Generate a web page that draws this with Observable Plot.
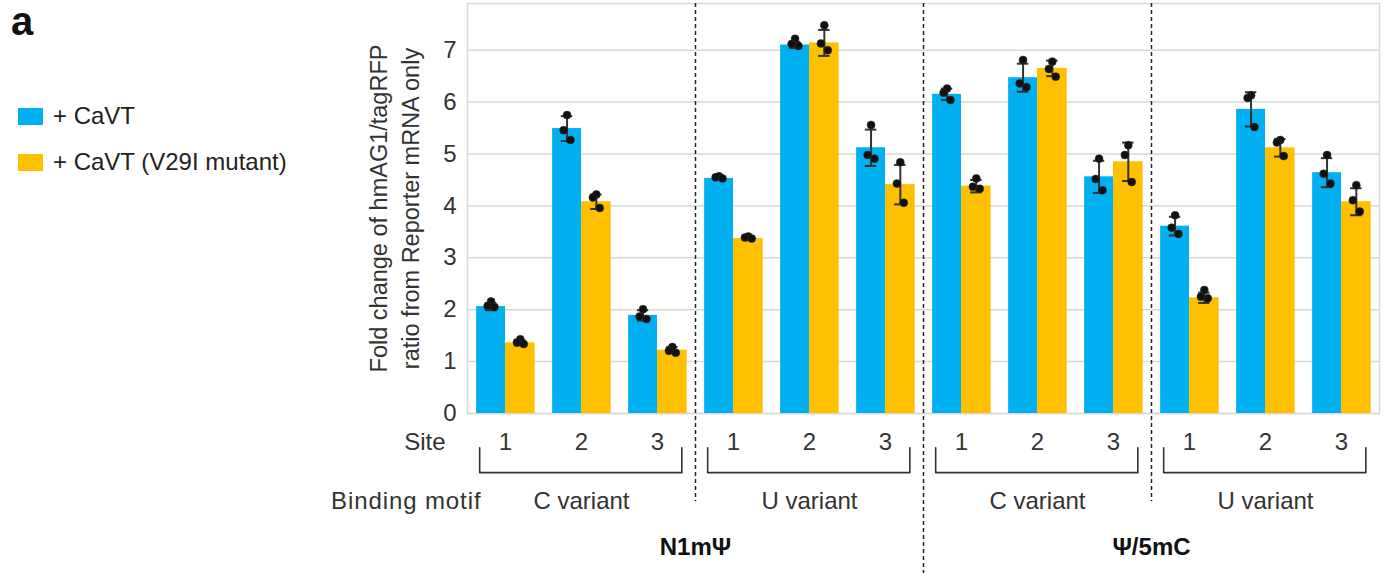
<!DOCTYPE html>
<html>
<head>
<meta charset="utf-8">
<script src="https://cdn.jsdelivr.net/npm/d3@7"></script>
<script src="https://cdn.jsdelivr.net/npm/@observablehq/plot@0.6"></script>
<style>
  html, body { margin: 0; padding: 0; background: #fff; }
  body { font-family: "Liberation Sans", Arial, sans-serif; }
  #wrap { position: relative; width: 1397px; height: 573px; overflow: hidden; }
  #chart { position: absolute; left: 0; top: 0; }
  .letter { position: absolute; left: 11px; top: 1px; font-size: 40px; line-height: 40px; font-weight: bold; color: #111; }
  .legend { position: absolute; left: 18px; font-size: 24px; color: #222; display: flex; align-items: center; height: 30px; }
  .legend .sw { width: 25px; height: 17px; margin-right: 10px; }
</style>
</head>
<body>
<div id="wrap">
  <div id="chart"></div>
  <div class="letter">a</div>
  <div class="legend" id="leg0" style="top:101px"><div class="sw"></div><span></span></div>
  <div class="legend" id="leg1" style="top:147px"><div class="sw"></div><span></span></div>
</div>
<script>
// ---------- data ----------
const seriesNames = ["+ CaVT", "+ CaVT (V29I mutant)"];
const seriesColors = ["#00B0F0", "#FFC000"];
const modifications = ["N1mΨ", "Ψ/5mC"];
const motifs = ["C variant", "U variant", "C variant", "U variant"];
const sites = [1, 2, 3, 1, 2, 3, 1, 2, 3, 1, 2, 3];
const yTicks = [0, 1, 2, 3, 4, 5, 6, 7];
const yTitle = ["Fold change of hmAG1/tagRFP", "ratio from Reporter mRNA only"];

const cavtMean   = [2.06, 5.49, 1.89, 4.53, 7.10, 5.12, 6.15, 6.47, 4.56, 3.61, 5.86, 4.64];
const cavtSD     = [0.07, 0.24, 0.10, 0.02, 0.06, 0.35, 0.11, 0.27, 0.31, 0.18, 0.33, 0.28];
const mutantMean = [1.36, 4.08, 1.22, 3.37, 7.14, 4.41, 4.38, 6.65, 4.85, 2.23, 5.12, 4.08];
const mutantSD   = [0.05, 0.14, 0.06, 0.03, 0.25, 0.38, 0.12, 0.15, 0.37, 0.10, 0.17, 0.26];

const cavtReps = [
  [2.16, 2.07, 2.05], [5.75, 5.46, 5.27], [2.01, 1.87, 1.82], [4.57, 4.55, 4.53],
  [7.22, 7.12, 7.08], [5.56, 4.98, 4.91], [6.26, 6.18, 6.04], [6.81, 6.36, 6.29],
  [4.91, 4.52, 4.30], [3.82, 3.58, 3.46], [6.13, 6.08, 5.52], [4.98, 4.62, 4.43]
];
const mutantReps = [
  [1.43, 1.37, 1.34], [4.22, 4.16, 3.96], [1.28, 1.21, 1.17], [3.41, 3.39, 3.37],
  [7.48, 7.13, 7.00], [4.84, 4.43, 4.06], [4.53, 4.37, 4.33], [6.78, 6.64, 6.49],
  [5.17, 4.98, 4.46], [2.38, 2.25, 2.22], [5.27, 5.22, 4.96], [4.40, 4.11, 3.89]
];

// ---------- tables ----------
const means = [cavtMean, mutantMean];
const sds = [cavtSD, mutantSD];
const reps = [cavtReps, mutantReps];
const bars = [];
const points = [];
means.forEach((arr, k) => arr.forEach((m, i) => {
  bars.push({i, k, mean: m, sd: sds[k][i]});
  reps[k][i].forEach((v, j) => points.push({i, k, j, v}));
}));
const groups = sites.map((s, i) => ({i, site: s}));
const panels = motifs.map((m, p) => ({p, motif: m, first: 3 * p, last: 3 * p + 2}));
const mods = modifications.map((m, q) => ({q, label: m, center: 6 * q + 2.5}));
const dividers = [2.5, 5.5, 8.5];

const left  = d => d.i + (d.k === 0 ? -0.38 : 0);
const right = d => d.i + (d.k === 0 ? 0 : 0.39);
const mid   = d => d.i + (d.k === 0 ? -0.19 : 0.195);
const jitter = [0, -0.045, 0.045];
const yMax = 7.9;

const bracketPts = [];
panels.forEach(p => {
  const a = p.first - 0.34, b = p.last + 0.32;
  [[a, -0.66], [a, -1.14], [b, -1.14], [b, -0.66]].forEach(([x, y]) => bracketPts.push({p: p.p, x, y}));
});

const textColor = "#333";
const chart = Plot.plot({
  width: 1397,
  height: 573,
  marginLeft: 467,
  marginRight: 18,
  marginTop: 3,
  marginBottom: 160,
  x: {domain: [-0.5, 11.5], axis: null},
  y: {domain: [0, yMax], axis: null},
  style: {fontFamily: "'Liberation Sans', Arial, sans-serif", fontSize: "24px", color: textColor, background: "#fff"},
  marks: [
    Plot.gridY(yTicks, {stroke: "#d9d9d9", strokeOpacity: 1, strokeWidth: 1.5}),
    Plot.frame({stroke: "#d9d9d9", strokeWidth: 1.5}),
    Plot.axisY(yTicks, {tickSize: 0, tickPadding: 11, fontSize: 24, label: null, fill: textColor, tickFormat: d => String(d)}),
    Plot.text([yTitle.join("\n")], {frameAnchor: "left", textAnchor: "middle", lineAnchor: "middle", rotate: -90, dx: -75, lineHeight: 1.36, fontSize: 23.5, fill: textColor}),
    Plot.rect(bars, {x1: left, x2: right, y1: 0, y2: "mean", fill: d => seriesColors[d.k]}),
    Plot.ruleX(bars, {x: mid, y1: d => d.mean - d.sd, y2: d => d.mean + d.sd, stroke: "#333", strokeWidth: 2}),
    Plot.ruleY(bars, {x1: d => mid(d) - 0.075, x2: d => mid(d) + 0.075, y: d => d.mean + d.sd, stroke: "#333", strokeWidth: 2}),
    Plot.ruleY(bars, {x1: d => mid(d) - 0.075, x2: d => mid(d) + 0.075, y: d => d.mean - d.sd, stroke: "#333", strokeWidth: 2}),
    Plot.dot(points, {x: d => mid(d) + jitter[d.j], y: "v", r: 4, fill: "#111", stroke: "#333", strokeWidth: 0.5}),
    Plot.ruleX(dividers, {x: d => d, y1: yMax, y2: d => d === 5.5 ? -3.1 : -1.7, stroke: "#222", strokeWidth: 1.5, strokeDasharray: "4,3"}),
    // site labels
    Plot.text(groups, {x: "i", text: d => String(d.site), frameAnchor: "bottom", lineAnchor: "middle", dy: 29, fontSize: 24, fill: textColor}),
    Plot.text(["Site"], {x: -0.5, frameAnchor: "bottom", lineAnchor: "middle", dy: 29, dx: -22, textAnchor: "end", fontSize: 24, fill: textColor}),
    // brackets
    Plot.line(bracketPts, {x: "x", y: "y", z: "p", stroke: "#333", strokeWidth: 1.6, strokeLinejoin: "round"}),
    // binding motif labels
    Plot.text(["Binding motif"], {x: -0.5, frameAnchor: "bottom", lineAnchor: "middle", dy: 88, dx: 14, textAnchor: "end", fontSize: 24, fill: textColor}),
    Plot.text(panels, {x: d => d.first + 1, text: "motif", frameAnchor: "bottom", lineAnchor: "middle", dy: 88, fontSize: 24, fill: textColor}),
    // modification labels
    Plot.text(mods, {x: "center", text: "label", frameAnchor: "bottom", lineAnchor: "middle", dy: 134, fontSize: 24, fontWeight: "bold", fill: "#111"})
  ]
});
d3.select(chart).selectAll("text")
  .filter(function () { return this.textContent === "Binding motif"; })
  .style("letter-spacing", "0.9px");
document.getElementById("chart").appendChild(chart);

[0, 1].forEach(k => {
  const el = document.getElementById("leg" + k);
  el.querySelector(".sw").style.background = seriesColors[k];
  el.querySelector("span").textContent = seriesNames[k];
});
</script>
</body>
</html>
